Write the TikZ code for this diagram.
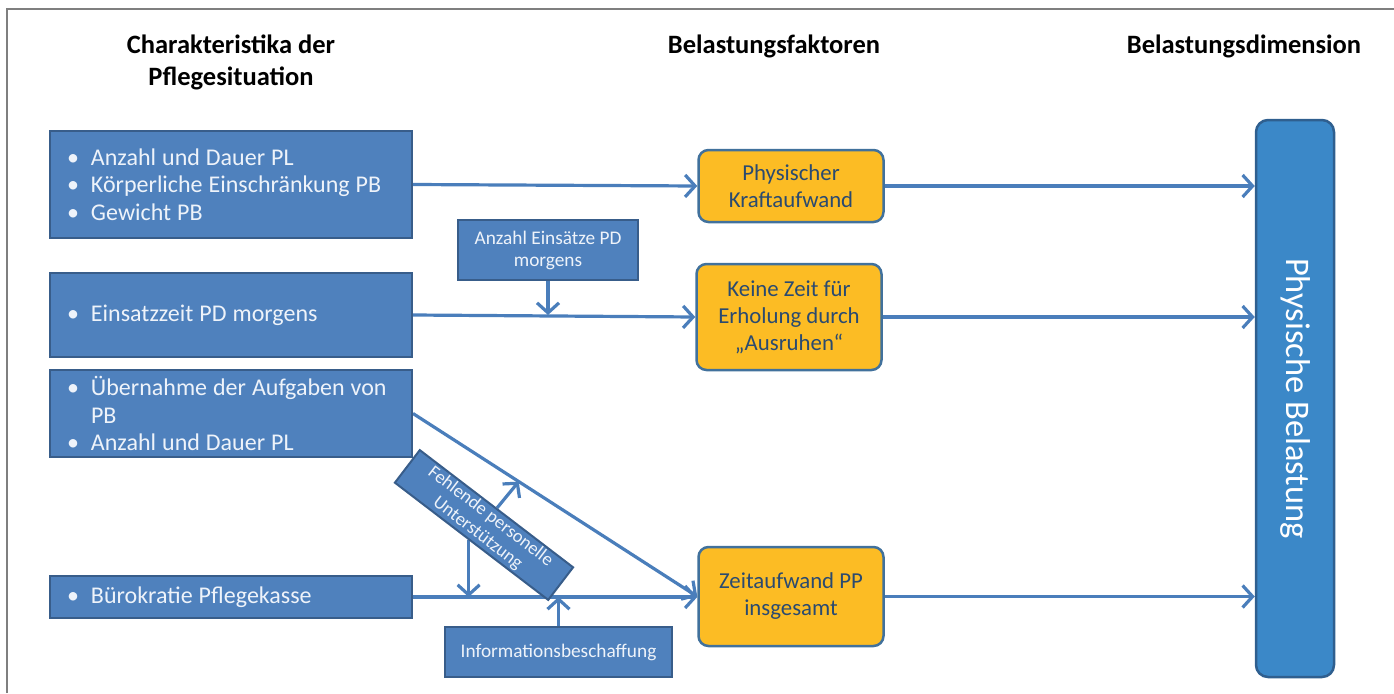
\documentclass[tikz,border=0pt]{standalone}
\usepackage{fontspec}
\setmainfont{Carlito}
\usetikzlibrary{arrows.meta,calc,backgrounds}

\definecolor{boxblue}{HTML}{4F81BD}
\definecolor{boxedge}{HTML}{385D8A}
\definecolor{boxtext}{HTML}{EEF3FA}
\definecolor{facfill}{HTML}{FCBC24}
\definecolor{facedge}{HTML}{41719C}
\definecolor{factext}{HTML}{2A4A70}
\definecolor{dimfill}{HTML}{3B88C8}
\definecolor{dimedge}{HTML}{2F5F8F}
\definecolor{arrowc}{HTML}{4A7EBB}
\definecolor{framegray}{HTML}{7F7F7F}

% bullet with fixed indent for the list boxes
\newcommand{\bul}{\makebox[24pt][l]{\textbullet}}
\newcommand{\hang}{\hspace*{24pt}}

\tikzset{
  heading/.style={font=\fontsize{26.5}{32}\selectfont\bfseries, align=center, text=black, inner sep=0pt},
  charbox/.style={draw=boxedge, fill=boxblue, line width=2pt, text=boxtext,
    text width=328pt, inner xsep=17pt, inner ysep=0pt, align=left,
    font=\fontsize{24}{27.5}\selectfont,
    execute at begin node={\spaceskip=0.25em\relax}},
  smallbox/.style={draw=boxedge, fill=boxblue, line width=2pt, text=boxtext,
    align=center, inner sep=0pt, font=\fontsize{19.3}{22}\selectfont},
  facbox/.style={draw=facedge, fill=facfill, line width=2.5pt, rounded corners=10pt,
    text=factext, align=center, minimum width=185pt, inner sep=0pt,
    font=\fontsize{22.8}{27}\selectfont},
  dimbox/.style={draw=dimedge, fill=dimfill, line width=2.5pt, rounded corners=12pt,
    text=white, minimum width=78pt, minimum height=557pt, inner sep=0pt,
    font=\fontsize{34.5}{38}\selectfont},
  arr/.style={draw=arrowc, line width=3.2pt, -{Straight Barb[length=10pt,width=22pt]}}
}

\begin{document}
\begin{tikzpicture}[x=1pt,y=-1pt]
\useasboundingbox (0,0) rectangle (1394,693);

% outer frame (left and top edges)
\draw[framegray, line width=2pt] (7,693) -- (7,9) -- (1394,9);

% column headings
\node[heading] (h1) at (231,62) {Charakteristika der\\Pflegesituation};
\node[heading] (h2) at (774,46) {Belastungsfaktoren};
\node[heading] (h3) at (1244,46) {Belastungsdimension};

% characteristics of the care situation
\node[charbox, minimum height=107pt] (c1) at (231,184.5)
  {\bul Anzahl und Dauer PL\\\bul Körperliche Einschränkung PB\\\bul Gewicht PB};
\node[charbox, minimum height=84pt] (c2) at (231,315)
  {\bul Einsatzzeit PD morgens};
\node[charbox, minimum height=87pt] (c3) at (231,413.5)
  {\bul Übernahme der Aufgaben von\\\hang PB\\\bul Anzahl und Dauer PL};
\node[charbox, minimum height=42pt] (c4) at (231,597)
  {\bul Bürokratie Pflegekasse};

% moderating factors
\node[smallbox, minimum width=180pt, minimum height=60pt] (anz) at (548,250)
  {Anzahl Einsätze PD\\morgens};
\node[smallbox, minimum width=227pt, minimum height=50pt] (info) at (558.5,652)
  {Informationsbeschaffung};
\node[smallbox, minimum width=193pt, minimum height=41pt, rotate=-37.4,
      font=\fontsize{18.5}{21}\selectfont] (fehl) at (484,525)
  {Fehlende personelle\\Unterstützung};

% strain factors
\node[facbox, minimum height=72pt] (f1) at (791,186) {Physischer\\Kraftaufwand};
\node[facbox, minimum height=106pt] (f2) at (789,317) {Keine Zeit für\\Erholung durch\\„Ausruhen“};
\node[facbox, minimum height=99pt] (f3) at (791,596.5) {Zeitaufwand PP\\insgesamt};

% strain dimension
\node[dimbox] (dim) at (1295,398.5) {\rotatebox{-90}{Physische Belastung}};

% connectors
\begin{scope}[on background layer]
  \draw[arr] (c1.east) -- (f1.west);
  \draw[arr] (f1.east) -- (f1.east -| dim.west);
  \draw[arr] (c2.east) -- (f2.west);
  \draw[arr] (f2.east) -- (f2.east -| dim.west);
  \draw[arr] (c3.east) -- (f3.west);
  \draw[arr] (c4.east) -- (c4.east -| f3.west);
  \draw[arr] (f3.east) -- (f3.east -| dim.west);
  \draw[arr] (anz.south) -- (anz.south |- c2.east);
  \draw[arr] (info.north) -- (info.north |- c4.east);
  \coordinate (fu) at ($(c3.east)!0.372!(f3.west)$);
  \draw[arr] (fehl.north) -- (fu);
  \coordinate (fs) at ($(fehl.south west)!0.485!(fehl.south east)$);
  \draw[arr] (fs) -- (fs |- c4.east);
\end{scope}
\end{tikzpicture}
\end{document}
